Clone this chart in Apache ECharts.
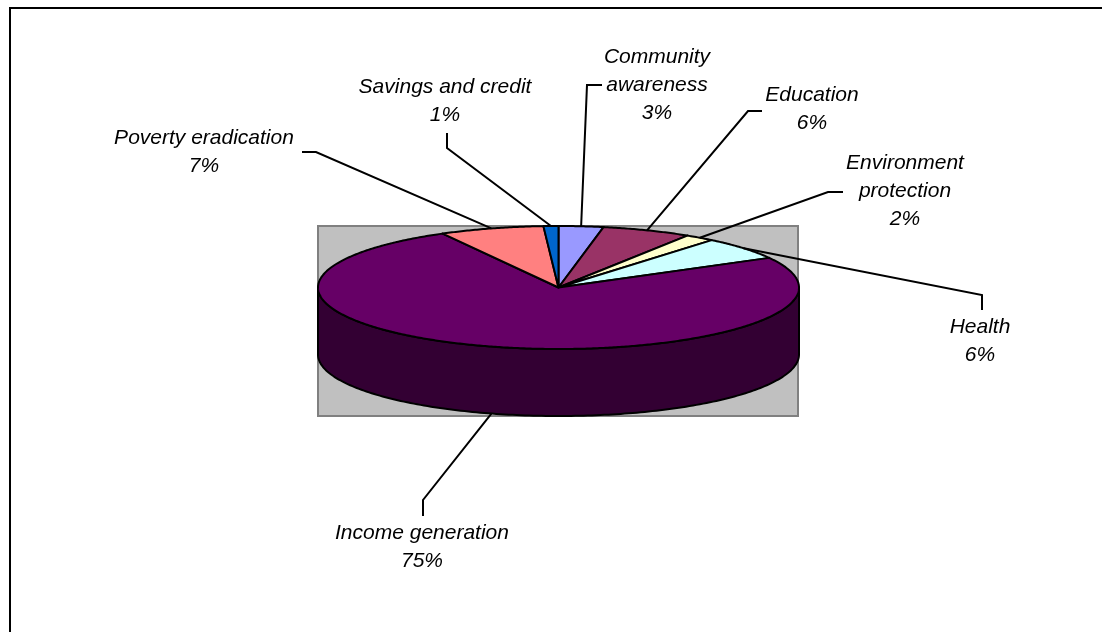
<!DOCTYPE html>
<html><head><meta charset="utf-8">
<script src="https://cdn.jsdelivr.net/npm/echarts/dist/echarts.min.js"></script>
<style>html,body{margin:0;padding:0;background:#fff}#c{width:1102px;height:632px}</style>
</head><body><div id="c"></div>
<script>
// ---- data ----
const categories = ['Community awareness', 'Education', 'Environment protection', 'Health', 'Income generation', 'Poverty eradication', 'Savings and credit'];
const shares = [3, 6, 2, 6, 75, 7, 1];

// ---- styles ----
const topColors = ['#9999FF', '#993366', '#FFFFCC', '#CCFFFF', '#660066', '#FF8080', '#0066CC'];
const sideColors = ['#4D4D80', '#4D1A33', '#808066', '#668080', '#330033', '#804040', '#003366'];
const G = { cx: 558.5, cy: 287.5, rx: 240.5, ry: 61.5, depth: 67 };
const FONT = 'italic 21px "Liberation Sans", Arial, sans-serif';
// label layout: block centre, whether the name wraps, leader elbow points
const labelLayout = {
  'Community awareness':    { x: 657, y: 85,    wrap: true,  elbow: [[602, 85], [587, 85]] },
  'Education':              { x: 812, y: 109.5, wrap: false, elbow: [[762, 111], [748, 111]] },
  'Environment protection': { x: 905, y: 191,   wrap: true,  elbow: [[843, 192], [828, 192]] },
  'Health':                 { x: 980, y: 341,   wrap: false, elbow: [[982, 310], [982, 295]] },
  'Income generation':      { x: 422, y: 547.5, wrap: false, elbow: [[423, 516], [423, 500]] },
  'Poverty eradication':    { x: 204, y: 152.5, wrap: false, elbow: [[302, 152], [316, 152]] },
  'Savings and credit':     { x: 445, y: 101,   wrap: false, elbow: [[447, 133], [447, 148]] }
};

const total = shares.reduce((a, b) => a + b, 0);
const starts = [];
{ let acc = 0; shares.forEach(v => { starts.push(acc / total * 360); acc += v; }); }
function pt(deg, dz) {
  const r = deg * Math.PI / 180;
  return [G.cx + G.rx * Math.sin(r), G.cy - G.ry * Math.cos(r) + (dz || 0)];
}
function span(i, v) { const a0 = starts[i]; return [a0, a0 + v / total * 360]; }

const chart = echarts.init(document.getElementById('c'), null, { renderer: 'canvas' });
chart.setOption({
  animation: false,
  graphic: [
    { type: 'rect', z: 0, silent: true, shape: { x: 10, y: 8, width: 1200, height: 700 }, style: { fill: '#fff', stroke: '#000', lineWidth: 2 } },
    { type: 'rect', z: 1, silent: true, shape: { x: 318, y: 226, width: 480, height: 190 }, style: { fill: '#C0C0C0', stroke: '#808080', lineWidth: 2 } }
  ],
  series: [
    { // side walls
      type: 'custom', coordinateSystem: 'none', silent: true, z: 3,
      data: shares,
      renderItem(params, api) {
        const i = params.dataIndex, v = api.value(0);
        const [a0, a1] = span(i, v);
        const s = Math.max(a0, 90), e = Math.min(a1, 270);
        if (e <= s) return { type: 'group', children: [] };
        const pts = [];
        for (let a = s; a < e; a += 1) pts.push(pt(a));
        pts.push(pt(e));
        for (let a = e; a > s; a -= 1) pts.push(pt(a, G.depth));
        pts.push(pt(s, G.depth));
        return { type: 'polygon', shape: { points: pts }, style: { fill: sideColors[i], stroke: '#000', lineWidth: 2, lineJoin: 'round' } };
      }
    },
    { // top faces
      type: 'custom', coordinateSystem: 'none', silent: true, z: 4,
      data: shares,
      renderItem(params, api) {
        const i = params.dataIndex, v = api.value(0);
        const [a0, a1] = span(i, v);
        const pts = [[G.cx, G.cy]];
        for (let a = a0; a < a1; a += 0.5) pts.push(pt(a));
        pts.push(pt(a1));
        return { type: 'polygon', shape: { points: pts }, style: { fill: topColors[i], stroke: '#000', lineWidth: 2, lineJoin: 'round' } };
      }
    },
    { // labels + leaders
      type: 'custom', coordinateSystem: 'none', silent: true, z: 5,
      data: shares,
      renderItem(params, api) {
        const i = params.dataIndex, v = api.value(0);
        const [a0, a1] = span(i, v);
        const mid = (a0 + a1) / 2;
        const front = mid > 90 && mid < 270;
        const end = pt(mid, front ? G.depth : 0);
        const L = labelLayout[categories[i]];
        const name = L.wrap ? categories[i].replace(' ', '\n') : categories[i];
        const pct = Math.round(v / total * 100) + '%';
        return {
          type: 'group',
          children: [
            { type: 'polyline', shape: { points: [L.elbow[0], L.elbow[1], end] }, style: { fill: null, stroke: '#000', lineWidth: 2 } },
            { type: 'text', style: { text: name + '\n' + pct, x: L.x, y: L.y, align: 'center', verticalAlign: 'middle', font: FONT, lineHeight: 28, fill: '#000' } }
          ]
        };
      }
    }
  ]
});
</script>
</body></html>
